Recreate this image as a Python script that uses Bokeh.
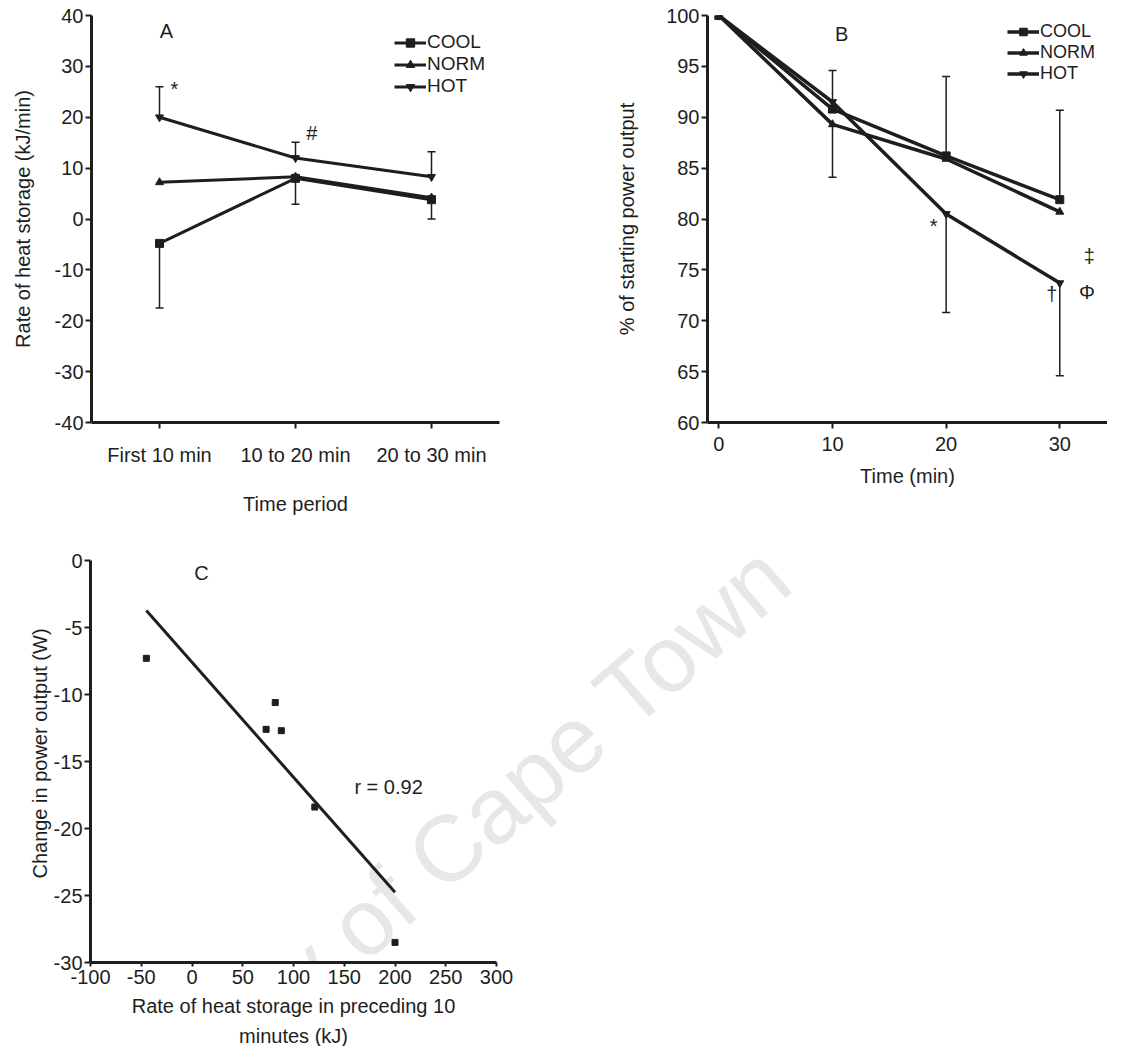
import numpy as np
from bokeh.plotting import figure
from bokeh.layouts import column, row
from bokeh.models import (Whisker, TeeHead, Label, FixedTicker, Range1d, Title,
                          ColumnDataSource, Legend, LegendItem)
from bokeh.embed import file_html
from bokeh.resources import INLINE

# ---------------- data ----------------
# Panel A : rate of heat storage (kJ/min)
period_labels = ["First 10 min", "10 to 20 min", "20 to 30 min"]
period_pos = [1, 2, 3]
a_cool = [-4.8, 8.0, 3.8]
a_norm = [7.2, 8.3, 4.2]
a_hot = [20.0, 12.0, 8.3]
a_cool_sd_down = [12.7, 5.1, 3.8]
a_hot_sd_up = [6.0, 3.1, 4.9]
a_yticks = [-40, -30, -20, -10, 0, 10, 20, 30, 40]

# Panel B : % of starting power output
b_time = [0, 10, 20, 30]
b_cool = [100, 90.8, 86.2, 81.9]
b_norm = [100, 89.3, 85.9, 80.7]
b_hot = [100, 91.5, 80.5, 73.7]
b_cool_sd_up = [0, 3.8, 7.8, 8.8]
b_norm_sd_down = [0, 5.2, 0, 0]
b_hot_sd_down = [0, 0, 9.7, 9.1]
b_yticks = [60, 65, 70, 75, 80, 85, 90, 95, 100]
b_xticks = [0, 10, 20, 30]

# Panel C : change in power output vs heat storage
c_heat = [-45, 82, 73, 88, 121, 200]
c_power = [-7.3, -10.6, -12.6, -12.7, -18.4, -28.5]
c_r_text = "r = 0.92"
c_xticks = [-100, -50, 0, 50, 100, 150, 200, 250, 300]
c_yticks = [-30, -25, -20, -15, -10, -5, 0]
c_xlabel_lines = ["Rate of heat storage in preceding 10", "minutes (kJ)"]

series_names = ["COOL", "NORM", "HOT"]
series_markers = ["square", "triangle", "inverted_triangle"]

FONT = "Liberation Sans"
INK = "#1e1e1e"
FS = "20px"


def style(p):
    p.outline_line_color = None
    p.grid.visible = False
    p.background_fill_color = "white"
    p.border_fill_color = "white"
    for ax in p.axis:
        ax.axis_line_width = 3
        ax.axis_line_color = INK
        ax.major_tick_line_width = 2
        ax.major_tick_line_color = INK
        ax.major_tick_in = 0
        ax.major_tick_out = 6
        ax.minor_tick_line_color = None
        ax.major_label_text_font = FONT
        ax.major_label_text_font_size = FS
        ax.major_label_text_color = INK
        ax.axis_label_text_font = FONT
        ax.axis_label_text_font_style = "normal"
        ax.axis_label_text_font_size = FS
        ax.axis_label_text_color = INK


def plain_labels(ticks):
    return {t: str(t) for t in ticks}


def add_err(p, xs, ys, errs, direction):
    pts = [(x, y, e) for x, y, e in zip(xs, ys, errs) if e > 0]
    base = [t[0] for t in pts]
    if direction == "up":
        lower = [t[1] for t in pts]
        upper = [t[1] + t[2] for t in pts]
        heads = dict(upper_head=TeeHead(size=8, line_width=1.5, line_color=INK), lower_head=None)
    else:
        lower = [t[1] - t[2] for t in pts]
        upper = [t[1] for t in pts]
        heads = dict(lower_head=TeeHead(size=8, line_width=1.5, line_color=INK), upper_head=None)
    src = ColumnDataSource(dict(base=base, lower=lower, upper=upper))
    w = Whisker(base="base", lower="lower", upper="upper", source=src,
                line_width=1.5, line_color=INK, **heads)
    p.add_layout(w)


def add_series(p, xs, ys_list, msize, lw):
    items = []
    for name, mk, ys in zip(series_names, series_markers, ys_list):
        l = p.line(xs, ys, line_width=lw, line_color=INK)
        s = p.scatter(xs, ys, marker=mk, size=msize, fill_color=INK, line_color=INK)
        items.append(LegendItem(label=name, renderers=[l, s]))
    return items


def make_legend(items, loc, h, fs):
    return Legend(items=items, location=loc, glyph_width=32, glyph_height=h,
                  label_height=h, spacing=0, padding=0, margin=0, label_standoff=1,
                  border_line_color=None, background_fill_alpha=0,
                  label_text_font=FONT, label_text_font_size=fs, label_text_color=INK)


def note(p, x, y, text, size=FS):
    p.add_layout(Label(x=x, y=y, text=text, text_font=FONT, text_font_size=size,
                       text_color=INK, text_align="center", text_baseline="middle"))


# ---------------- Panel A ----------------
pA = figure(frame_width=408, frame_height=407, min_border_left=91, min_border_right=98,
            min_border_top=15, min_border_bottom=107,
            x_range=Range1d(0.5, 3.5), y_range=Range1d(-40, 40),
            output_backend="svg", toolbar_location=None,
            x_axis_label="Time period", y_axis_label="Rate of heat storage (kJ/min)")
style(pA)
pA.xaxis.ticker = FixedTicker(ticks=period_pos)
pA.xaxis.major_label_overrides = {k: v for k, v in zip(period_pos, period_labels)}
pA.yaxis.ticker = FixedTicker(ticks=a_yticks)
pA.yaxis.major_label_overrides = plain_labels(a_yticks)
pA.xaxis.major_label_standoff = 15
pA.xaxis.axis_label_standoff = 24
pA.yaxis.major_label_standoff = 2
pA.yaxis.axis_label_standoff = 18
add_err(pA, period_pos, a_cool, a_cool_sd_down, "down")
add_err(pA, period_pos, a_hot, a_hot_sd_up, "up")
itemsA = add_series(pA, period_pos, [a_cool, a_norm, a_hot], 8, 3)
pA.add_layout(make_legend(itemsA, (303, 325), 21, "19px"))
note(pA, 1.05, 36.9, "A")
note(pA, 1.11, 25.5, "*")
note(pA, 2.12, 17.0, "#")

# ---------------- Panel B ----------------
pB = figure(frame_width=400, frame_height=407, min_border_left=110, min_border_right=0,
            min_border_top=15, min_border_bottom=107,
            x_range=Range1d(-1, 34.2), y_range=Range1d(60, 100),
            output_backend="svg", toolbar_location=None,
            x_axis_label="Time (min)", y_axis_label="% of starting power output")
style(pB)
pB.xaxis.ticker = FixedTicker(ticks=b_xticks)
pB.yaxis.ticker = FixedTicker(ticks=b_yticks)
pB.xaxis.major_label_standoff = 8
pB.xaxis.axis_label_standoff = 11
pB.yaxis.major_label_standoff = 2
pB.yaxis.axis_label_standoff = 25
add_err(pB, b_time, b_cool, b_cool_sd_up, "up")
add_err(pB, b_time, b_norm, b_norm_sd_down, "down")
add_err(pB, b_time, b_hot, b_hot_sd_down, "down")
itemsB = add_series(pB, b_time, [b_cool, b_norm, b_hot], 8, 3.5)
pB.add_layout(make_legend(itemsB, (300, 338), 19, "18px"))
note(pB, 10.8, 98.2, "B")
note(pB, 18.9, 79.3, "*")
note(pB, 32.6, 76.4, "\u2021")
note(pB, 29.3, 72.6, "\u2020")
note(pB, 32.4, 72.8, "\u03a6")

# ---------------- Panel C ----------------
# the plotting frame is widened to the right (axis limited by bounds) so that the
# faint watermark of the source page can run across the empty area
c_px_per_x = 406 / 400.0
c_px_per_y = 402 / 30.0
c_fw, c_fh = 1017, 418
pC = figure(frame_width=c_fw, frame_height=c_fh, min_border_left=90, min_border_right=0,
            min_border_top=15, min_border_bottom=78,
            x_range=Range1d(-100, -100 + c_fw / c_px_per_x),
            y_range=Range1d(-30, -30 + c_fh / c_px_per_y),
            output_backend="svg", toolbar_location=None,
            y_axis_label="Change in power output (W)")
style(pC)
pC.xaxis.bounds = (-100, 300)
pC.yaxis.bounds = (-30, 0)
pC.add_layout(Label(x=199, y=-25.0, text="University of Cape Town", angle=0.716,
                    text_font=FONT, text_font_size="94px", text_color="#e7e7e7",
                    text_align="center", text_baseline="middle", level="underlay"))
pC.xaxis.ticker = FixedTicker(ticks=c_xticks)
pC.yaxis.ticker = FixedTicker(ticks=c_yticks)
pC.xaxis.major_label_overrides = plain_labels(c_xticks)
pC.yaxis.major_label_overrides = plain_labels(c_yticks)
pC.xaxis.major_tick_out = 4
pC.xaxis.major_label_standoff = 3
pC.yaxis.major_label_standoff = 2
pC.yaxis.axis_label_standoff = 0
# two-line x-axis title, centred under the bounded axis (203 px from frame left)
for i, (txt, w_em) in enumerate(zip(c_xlabel_lines, [16.176, 5.445])):
    pC.add_layout(Title(text=txt, align="left", offset=203 - w_em * 20 / 2,
                        text_font=FONT, text_font_size=FS, text_font_style="normal",
                        text_color=INK, standoff=(12 if i == 0 else 0)), "below")
coef = np.polyfit(c_heat, c_power, 1)
fit_x = [min(c_heat), max(c_heat)]
fit_y = list(np.polyval(coef, fit_x))
pC.line(fit_x, fit_y, line_width=3, line_color=INK)
pC.scatter(c_heat, c_power, marker="square", size=6, fill_color=INK, line_color=INK)
note(pC, 9.4, -0.9, "C")
pC.add_layout(Label(x=160, y=-16.9, text=c_r_text, text_font=FONT, text_font_size=FS,
                    text_color=INK, text_align="left", text_baseline="middle"))

layout = column(row(pA, pB), pC)
open("out.html", "w").write(file_html(layout, INLINE))
